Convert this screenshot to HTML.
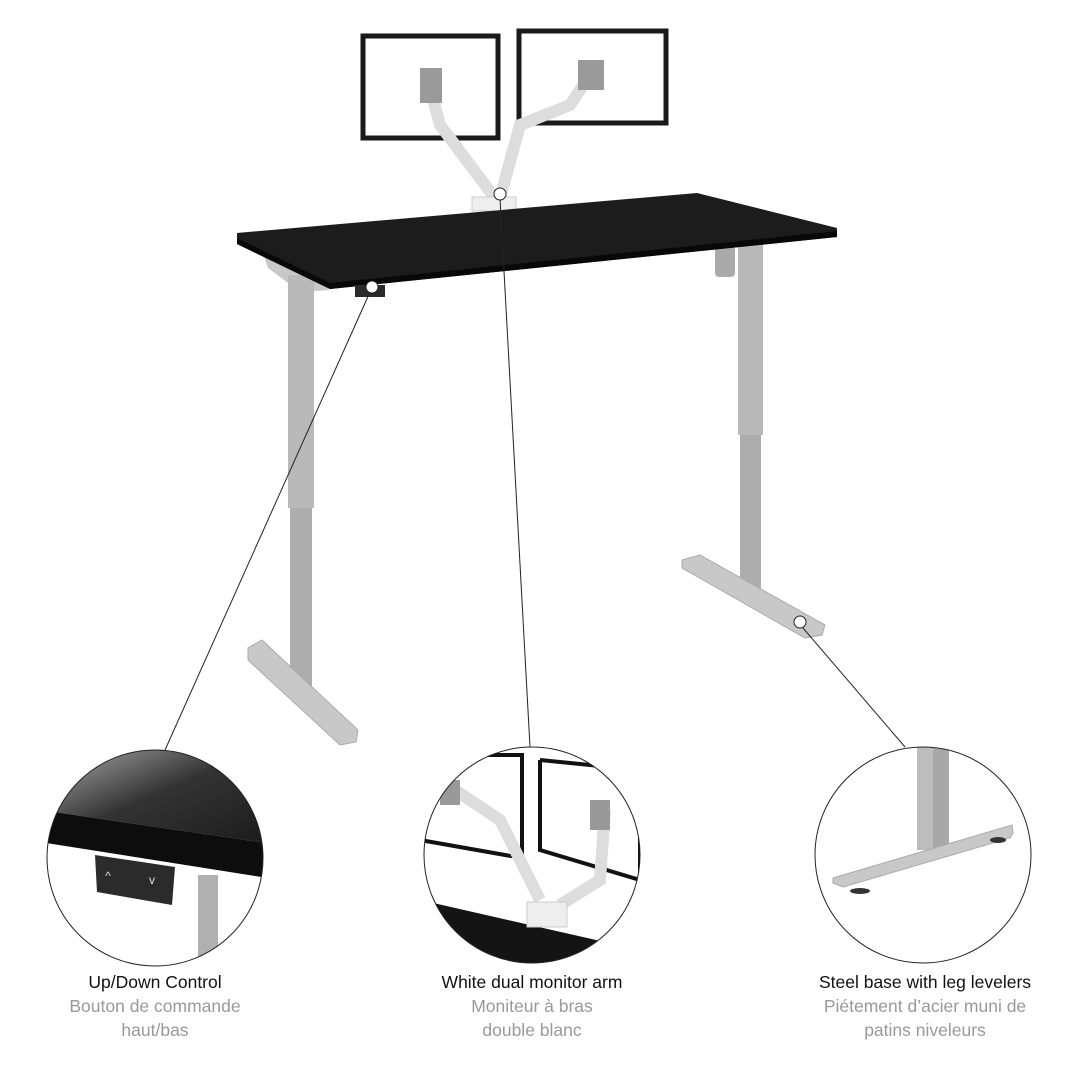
<!DOCTYPE html>
<html><head><meta charset="utf-8"><style>
html,body{margin:0;padding:0;background:#fff}
svg{display:block}
text{font-family:"Liberation Sans",sans-serif;text-anchor:middle}
</style></head><body>
<svg width="1080" height="1080" viewBox="0 0 1080 1080" xmlns="http://www.w3.org/2000/svg">
<defs>
<clipPath id="c1"><circle cx="155" cy="858" r="108"/></clipPath>
<clipPath id="c2"><circle cx="532" cy="855" r="108"/></clipPath>
<clipPath id="c3"><circle cx="923" cy="855" r="108"/></clipPath>
<linearGradient id="dk" x1="0" y1="0" x2="1" y2="1"><stop offset="0" stop-color="#bdbdbd"/><stop offset="0.5" stop-color="#333"/><stop offset="1" stop-color="#1a1a1a"/></linearGradient>
</defs>

<!-- monitors -->
<rect x="363" y="36" width="135" height="102" fill="#fff" stroke="#1a1a1a" stroke-width="5"/>
<rect x="519" y="31" width="147" height="92" fill="#fff" stroke="#1a1a1a" stroke-width="5"/>
<!-- arms -->
<path d="M432 95 L440 125 L495 198" stroke="#ddd" stroke-width="12" fill="none" stroke-linecap="round"/>
<path d="M590 75 L570 105 L520 125 L500 198" stroke="#ddd" stroke-width="12" fill="none" stroke-linecap="round"/>
<rect x="420" y="68" width="22" height="35" fill="#9a9a9a"/>
<rect x="578" y="60" width="26" height="30" fill="#9a9a9a"/>
<rect x="472" y="197" width="44" height="14" fill="#eee" stroke="#ccc"/>

<!-- legs -->
<polygon points="262,250 300,268 330,290 300,292 268,268" fill="#c8c8c8"/>
<rect x="288" y="275" width="26" height="233" fill="#b9b9b9"/>
<rect x="290" y="508" width="22" height="180" fill="#adadad"/>
<polygon points="248,648 262,640 358,730 356,742 340,745 248,660" fill="#c8c8c8" stroke="#aaa"/>
<rect x="738" y="240" width="25" height="195" fill="#b9b9b9"/>
<rect x="740" y="435" width="21" height="165" fill="#adadad"/>
<polygon points="682,560 700,555 825,625 822,635 805,638 682,568" fill="#c8c8c8" stroke="#aaa"/>
<rect x="715" y="245" width="20" height="32" rx="4" fill="#aaa"/>

<!-- desk top -->
<polygon points="237,233 697,193 837,228 837,237 330,289 237,244" fill="#1c1c1c"/>
<polygon points="237,238 330,283 837,231 837,237 330,289 237,244" fill="#080808"/>
<rect x="355" y="285" width="30" height="12" fill="#2a2a2a"/>

<!-- leader lines -->
<g stroke="#222" stroke-width="1" fill="none">
<line x1="370" y1="292" x2="165" y2="750"/>
<line x1="500" y1="198" x2="530" y2="747"/>
<line x1="803" y1="628" x2="905" y2="747"/>
</g>
<circle cx="372" cy="287" r="6" fill="#fff" stroke="#222"/>
<circle cx="500" cy="194" r="6" fill="#fff" stroke="#222"/>
<circle cx="800" cy="622" r="6" fill="#fff" stroke="#222"/>

<!-- circle 1 -->
<g clip-path="url(#c1)">
<rect x="40" y="740" width="240" height="240" fill="#fff"/>
<polygon points="40,740 280,740 280,845 40,810" fill="url(#dk)"/>
<polygon points="40,810 280,845 280,880 40,842" fill="#0d0d0d"/>
<rect x="198" y="875" width="20" height="100" fill="#b0b0b0"/>
<polygon points="95,855 175,867 172,905 97,892" fill="#2b2b2b"/>
<text x="108" y="880" fill="#ddd" font-size="12">^</text>
<text x="152" y="884" fill="#ddd" font-size="12">v</text>
</g>
<circle cx="155" cy="858" r="108" fill="none" stroke="#222"/>

<!-- circle 2 -->
<g clip-path="url(#c2)">
<rect x="420" y="740" width="230" height="230" fill="#fff"/>
<polygon points="420,900 640,950 640,970 420,970" fill="#141414"/>
<polyline points="420,755 522,755 522,858 420,840" fill="none" stroke="#111" stroke-width="4"/>
<polyline points="540,760 640,770 640,880 540,850 540,760" fill="none" stroke="#111" stroke-width="4"/>
<path d="M455 790 L500 820 L540 900" stroke="#ddd" stroke-width="12" fill="none"/>
<path d="M605 810 L600 880 L560 905" stroke="#ddd" stroke-width="12" fill="none"/>
<rect x="440" y="780" width="20" height="25" fill="#999"/>
<rect x="590" y="800" width="20" height="30" fill="#999"/>
<rect x="527" y="902" width="40" height="25" fill="#eee" stroke="#ccc"/>
</g>
<circle cx="532" cy="855" r="108" fill="none" stroke="#222"/>

<!-- circle 3 -->
<g clip-path="url(#c3)">
<rect x="917" y="745" width="32" height="105" fill="#bdbdbd"/>
<rect x="933" y="745" width="16" height="105" fill="#a8a8a8"/>
<polygon points="833,878 1012,825 1013,833 1010,838 843,887 833,883" fill="#c8c8c8" stroke="#aaa"/>
<ellipse cx="860" cy="891" rx="10" ry="3" fill="#333"/>
<ellipse cx="998" cy="840" rx="8" ry="3" fill="#333"/>
</g>
<circle cx="923" cy="855" r="108" fill="none" stroke="#222"/>

<!-- labels -->
<g font-size="17.5">
<text x="155" y="988" fill="#111">Up/Down Control</text>
<text x="155" y="1012" fill="#999">Bouton de commande</text>
<text x="155" y="1036" fill="#999">haut/bas</text>
<text x="532" y="988" fill="#111">White dual monitor arm</text>
<text x="532" y="1012" fill="#999">Moniteur à bras</text>
<text x="532" y="1036" fill="#999">double blanc</text>
<text x="925" y="988" fill="#111">Steel base with leg levelers</text>
<text x="925" y="1012" fill="#999">Piétement d’acier muni de</text>
<text x="925" y="1036" fill="#999">patins niveleurs</text>
</g>
</svg>
</body></html>
